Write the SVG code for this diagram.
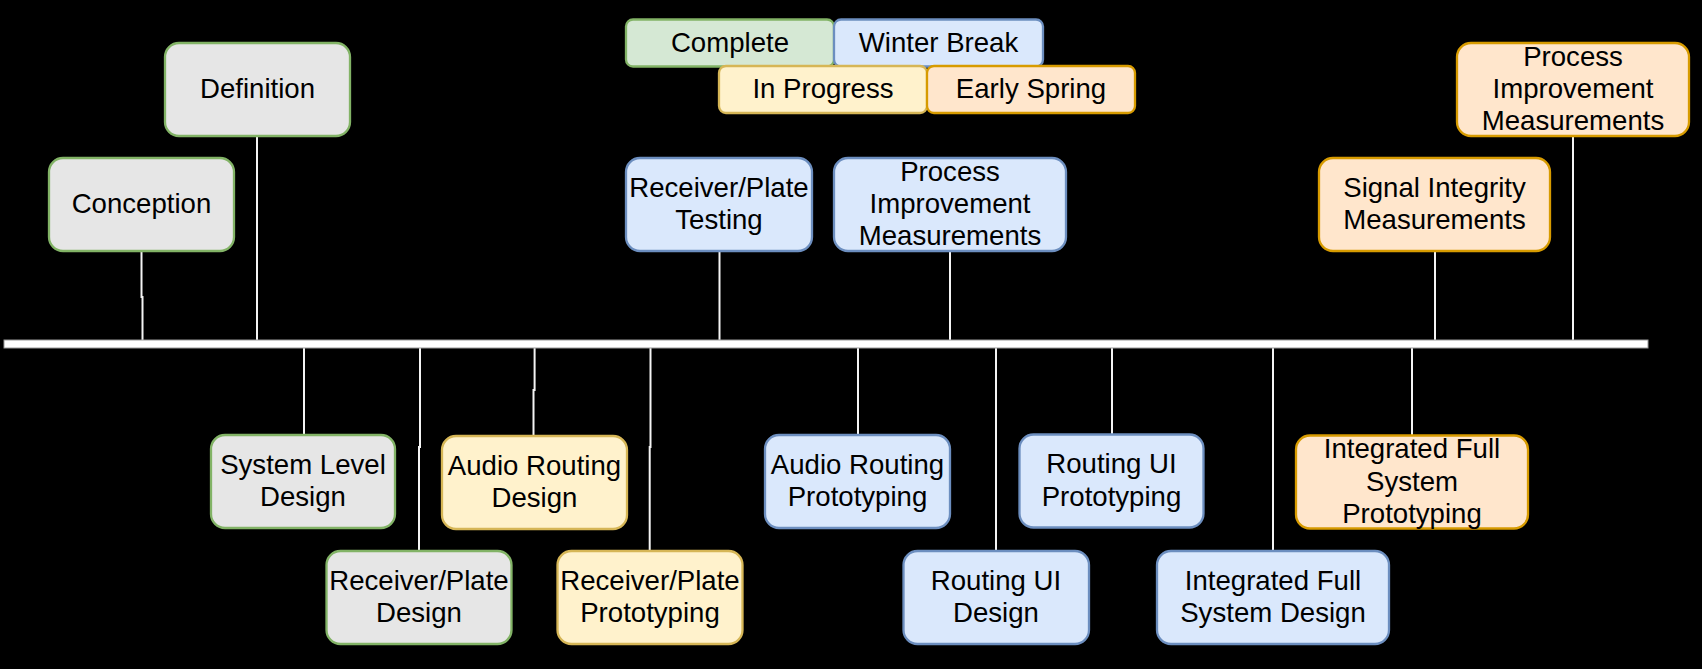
<svg xmlns="http://www.w3.org/2000/svg" width="1702" height="669" viewBox="0 0 1702 669">
<style>
text{font-family:"Liberation Sans",Arial,Helvetica,sans-serif;font-size:27.6px;fill:#000;text-anchor:middle}
.box{stroke-width:2.3}
.gray{fill:#e6e6e6;stroke:#82b366}
.green{fill:#d5e8d4;stroke:#82b366}
.blue{fill:#dae8fc;stroke:#6c8ebf}
.yellow{fill:#fff2cc;stroke:#d6b656}
.orange{fill:#ffe6cc;stroke:#d79b00}
.conn{fill:none;stroke:#f4f4f4;stroke-width:2}
</style>
<rect x="0" y="0" width="1702" height="669" fill="#000"/>
<g id="connectors">
<path class="conn" d="M141.5 251V297H142.5V348"/>
<path class="conn" d="M257 136V340"/>
<path class="conn" d="M719.5 251V340"/>
<path class="conn" d="M950 251V340"/>
<path class="conn" d="M1435 251V348"/>
<path class="conn" d="M1573 136V340"/>
<path class="conn" d="M304 348V435"/>
<path class="conn" d="M420 348V447H419V551"/>
<path class="conn" d="M534.6 348V390H533.5V436"/>
<path class="conn" d="M650.5 348V447H649.7V551"/>
<path class="conn" d="M858 348V435"/>
<path class="conn" d="M1112 348V434.5"/>
<path class="conn" d="M996 348V551"/>
<path class="conn" d="M1273 348V551"/>
<path class="conn" d="M1412 348V435.5"/>
</g>
<g id="timeline">
<rect x="4" y="340" width="1644" height="8" fill="#fff" stroke="#999" stroke-width="1"/>
</g>
<g id="legend-complete"><rect class="box green" x="626" y="19.5" width="208" height="47" rx="7"/><text x="730" y="51.5">Complete</text></g>
<g id="legend-winter"><rect class="box blue" x="834" y="19.5" width="209" height="47" rx="7"/><text x="938.5" y="51.5">Winter Break</text></g>
<g id="legend-progress"><rect class="box yellow" x="719" y="66" width="208" height="47" rx="7"/><text x="823" y="98">In Progress</text></g>
<g id="legend-spring"><rect class="box orange" x="927" y="66" width="208" height="47" rx="7"/><text x="1031" y="98">Early Spring</text></g>

<g id="conception"><rect class="box gray" x="49" y="158" width="185" height="93" rx="14"/><text x="141.5" y="213">Conception</text></g>
<g id="definition"><rect class="box gray" x="165" y="43" width="185" height="93" rx="14"/><text x="257.5" y="98">Definition</text></g>
<g id="rp-testing"><rect class="box blue" x="626" y="158" width="186" height="93" rx="14"/><text x="719"><tspan x="719" y="196.8">Receiver/Plate</tspan><tspan x="719" y="229.2">Testing</tspan></text></g>
<g id="pim-blue"><rect class="box blue" x="834" y="158" width="232" height="93" rx="14"/><text x="950"><tspan x="950" y="180.6">Process</tspan><tspan x="950" y="213">Improvement</tspan><tspan x="950" y="245.4">Measurements</tspan></text></g>
<g id="sim"><rect class="box orange" x="1319" y="158" width="231" height="93" rx="14"/><text x="1434.5"><tspan x="1434.5" y="196.8">Signal Integrity</tspan><tspan x="1434.5" y="229.2">Measurements</tspan></text></g>
<g id="pim-orange"><rect class="box orange" x="1457" y="43" width="232" height="93" rx="14"/><text x="1573"><tspan x="1573" y="65.6">Process</tspan><tspan x="1573" y="98">Improvement</tspan><tspan x="1573" y="130.4">Measurements</tspan></text></g>

<g id="sld"><rect class="box gray" x="211" y="435" width="184" height="93" rx="14"/><text x="303"><tspan x="303" y="473.8">System Level</tspan><tspan x="303" y="506.2">Design</tspan></text></g>
<g id="rpd"><rect class="box gray" x="326.5" y="551" width="185" height="93" rx="14"/><text x="419"><tspan x="419" y="589.8">Receiver/Plate</tspan><tspan x="419" y="622.2">Design</tspan></text></g>
<g id="ard"><rect class="box yellow" x="442" y="436" width="185" height="93" rx="14"/><text x="534.5"><tspan x="534.5" y="474.8">Audio Routing</tspan><tspan x="534.5" y="507.2">Design</tspan></text></g>
<g id="rpp"><rect class="box yellow" x="557.5" y="551" width="185" height="93" rx="14"/><text x="650"><tspan x="650" y="589.8">Receiver/Plate</tspan><tspan x="650" y="622.2">Prototyping</tspan></text></g>
<g id="arp"><rect class="box blue" x="765" y="435" width="185" height="93" rx="14"/><text x="857.5"><tspan x="857.5" y="473.8">Audio Routing</tspan><tspan x="857.5" y="506.2">Prototyping</tspan></text></g>
<g id="ruip"><rect class="box blue" x="1019.5" y="434.5" width="184" height="93" rx="14"/><text x="1111.5"><tspan x="1111.5" y="473.3">Routing UI</tspan><tspan x="1111.5" y="505.7">Prototyping</tspan></text></g>
<g id="ruid"><rect class="box blue" x="903.5" y="551" width="185.5" height="93" rx="14"/><text x="996"><tspan x="996" y="589.8">Routing UI</tspan><tspan x="996" y="622.2">Design</tspan></text></g>
<g id="ifsd"><rect class="box blue" x="1157" y="551" width="232" height="93" rx="14"/><text x="1273"><tspan x="1273" y="589.8">Integrated Full</tspan><tspan x="1273" y="622.2">System Design</tspan></text></g>
<g id="ifsp"><rect class="box orange" x="1296" y="435.5" width="232" height="93" rx="14"/><text x="1412"><tspan x="1412" y="458.1">Integrated Full</tspan><tspan x="1412" y="490.5">System</tspan><tspan x="1412" y="522.9">Prototyping</tspan></text></g>
</svg>
